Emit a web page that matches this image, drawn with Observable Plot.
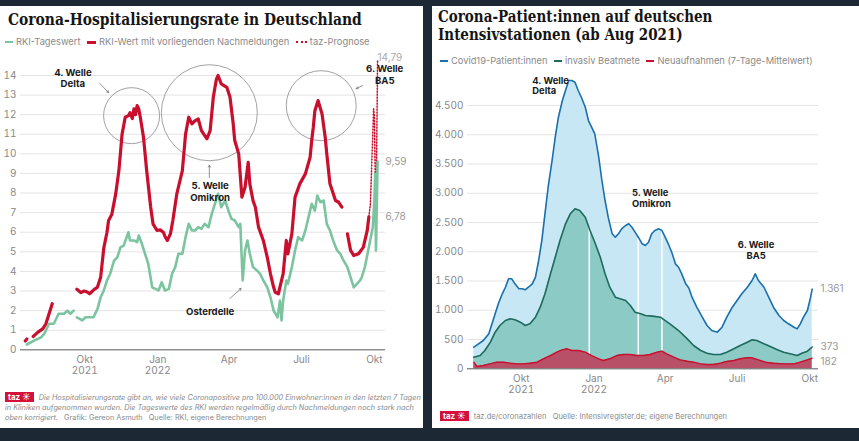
<!DOCTYPE html>
<html><head><meta charset="utf-8">
<script src="https://cdn.jsdelivr.net/npm/d3@7"></script>
<script src="https://cdn.jsdelivr.net/npm/@observablehq/plot@0.6"></script>
<style>
body{margin:0;background:#1c2834;width:859px;height:441px;overflow:hidden;font-family:Inter,"Noto Sans",sans-serif;}
.panel{position:absolute;background:#fff;overflow:hidden}
.title{position:absolute;font-family:"DejaVu Serif",serif;font-stretch:condensed;font-weight:bold;font-size:16.4px;color:#151515;line-height:18px;white-space:nowrap;transform-origin:0 0}
.legend{position:absolute;font-size:9.3px;color:#8a8a8a;white-space:nowrap;line-height:12px}
.legend span.sw{display:inline-block;vertical-align:middle;margin-right:3px}
.legend span.item{margin-right:4px}
.caption{position:absolute;font-size:7.3px;color:#8a8a8a;line-height:10px;white-space:nowrap}
.taz{display:inline-block;background:#d3113a;color:#fff;font-weight:bold;font-style:normal;font-size:8px;padding:0 3px;line-height:10px;margin-right:5px}
.chart{position:absolute;left:0}
.chart svg{overflow:visible}
</style></head>
<body>
<div class="panel" style="left:0;top:6px;width:423px;height:422px">
  <div class="title" style="left:8px;top:5px;transform:scaleX(0.94)">Corona-Hospitalisierungsrate in Deutschland</div>
  <div class="legend" style="left:5px;top:30px">
    <span class="item"><span class="sw" style="width:8px;height:2px;background:#7cc4a0"></span>RKI-Tageswert</span>
    <span class="item"><span class="sw" style="width:9px;height:3.5px;background:#c8102e"></span>RKI-Wert mit vorliegenden Nachmeldungen</span>
    <span class="item"><span class="sw" style="width:11px;height:0;border-top:2px dotted #c8102e"></span>taz-Prognose</span>
  </div>
  <div class="chart" id="c1" style="top:44px"></div>
  <div class="caption" style="left:5px;top:386px"><span class="taz">taz ☀</span><i>Die Hospitalisierungsrate gibt an, wie viele Coronapositive pro 100.000 Einwohner:innen in den letzten 7 Tagen</i><br><i>in Kliniken aufgenommen wurden. Die Tageswerte des RKI werden regelmäßig durch Nachmeldungen noch stark nach</i><br><i>oben korrigiert.</i>&nbsp;&nbsp;&nbsp;Grafik: Gereon Asmuth&nbsp;&nbsp;&nbsp;Quelle: RKI, eigene Berechnungen</div>
</div>
<div class="panel" style="left:432px;top:6px;width:427px;height:422px">
  <div class="title" style="left:6px;top:2px;transform:scaleX(0.915)">Corona-Patient:innen auf deutschen<br>Intensivstationen (ab Aug 2021)</div>
  <div class="legend" style="left:8px;top:49px">
    <span class="item"><span class="sw" style="width:8px;height:2px;background:#1a70ad"></span>Covid19-Patient:innen</span>
    <span class="item"><span class="sw" style="width:8px;height:2px;background:#1e6b5e"></span>invasiv Beatmete</span>
    <span class="item"><span class="sw" style="width:8px;height:2px;background:#c8102e"></span>Neuaufnahmen (7-Tage-Mittelwert)</span>
  </div>
  <div class="chart" id="c2" style="top:62px"></div>
  <div class="caption" style="left:8px;top:405px;font-size:7.5px"><span class="taz">taz ☀</span>taz.de/coronazahlen&nbsp;&nbsp;&nbsp;Quelle: Intensivregister.de; eigene Berechnungen</div>
</div>
<script>
// ---------- Left chart data ----------
const tagesDates = ["2021-07-20","2021-07-29","2021-08-07","2021-08-11","2021-08-17","2021-08-23","2021-08-29","2021-09-05","2021-09-09","2021-09-13","2021-09-17","2021-09-19","2021-09-21","2021-09-28","2021-10-02","2021-10-08","2021-10-12","2021-10-17","2021-10-21","2021-10-25","2021-10-29","2021-11-02","2021-11-07","2021-11-11","2021-11-15","2021-11-19","2021-11-25","2021-11-27","2021-12-02","2021-12-06","2021-12-08","2021-12-12","2021-12-16","2021-12-20","2021-12-25","2021-12-29","2022-01-02","2022-01-06","2022-01-10","2022-01-15","2022-01-19","2022-01-23","2022-01-27","2022-02-01","2022-02-05","2022-02-09","2022-02-13","2022-02-17","2022-02-21","2022-02-25","2022-03-01","2022-03-06","2022-03-10","2022-03-14","2022-03-18","2022-03-22","2022-03-27","2022-03-31","2022-04-04","2022-04-08","2022-04-13","2022-04-15","2022-04-18","2022-04-21","2022-04-24","2022-04-27","2022-05-01","2022-05-06","2022-05-10","2022-05-14","2022-05-19","2022-05-23","2022-05-27","2022-06-01","2022-06-04","2022-06-06","2022-06-08","2022-06-12","2022-06-14","2022-06-19","2022-06-23","2022-06-27","2022-07-02","2022-07-06","2022-07-10","2022-07-14","2022-07-18","2022-07-21","2022-07-25","2022-07-29","2022-08-02","2022-08-06","2022-08-10","2022-08-15","2022-08-19","2022-08-23","2022-08-28","2022-09-01","2022-09-05","2022-09-09","2022-09-13","2022-09-15","2022-09-19","2022-09-24","2022-09-29","2022-10-01","2022-10-02","2022-10-03","2022-10-05"];
const tagesValues = [0.27,0.47,0.64,0.82,1.33,1.33,1.84,1.84,2.0,1.84,2.0,null,1.66,1.5,1.66,1.66,1.66,2.09,2.68,3.03,3.54,3.88,4.56,4.72,5.23,5.32,6.0,5.58,5.58,5.49,5.83,5.41,4.9,4.39,3.19,3.11,3.03,3.45,3.03,3.11,3.88,4.22,4.9,4.9,5.75,6.43,6.09,6.09,6.26,6.17,6.43,6.26,6.94,7.45,7.96,7.28,7.62,7.1,6.68,6.6,6.26,6.43,3.54,5.07,5.58,4.9,4.22,4.05,3.88,3.54,3.19,2.68,2.0,1.66,2.51,1.5,2.51,3.54,3.37,4.22,5.07,5.75,5.58,6.09,6.77,7.45,7.1,7.87,7.53,7.62,6.43,6.09,5.58,5.07,4.9,4.56,4.22,3.7,3.19,3.37,3.54,3.7,4.22,5.23,6.26,7.62,8.98,5.07,9.59];

const nachDates = ["2021-07-18","2021-07-20","2021-07-24","2021-07-28","2021-08-03","2021-08-09","2021-08-13","2021-08-17","2021-08-21","2021-08-25","2021-09-21","2021-09-26","2021-09-30","2021-10-04","2021-10-07","2021-10-12","2021-10-17","2021-10-21","2021-10-25","2021-10-29","2021-10-31","2021-11-04","2021-11-09","2021-11-13","2021-11-17","2021-11-21","2021-11-25","2021-11-27","2021-11-30","2021-12-02","2021-12-04","2021-12-06","2021-12-08","2021-12-10","2021-12-14","2021-12-18","2021-12-23","2021-12-26","2021-12-31","2022-01-04","2022-01-08","2022-01-10","2022-01-13","2022-01-15","2022-01-17","2022-01-20","2022-01-25","2022-02-01","2022-02-05","2022-02-09","2022-02-13","2022-02-17","2022-02-21","2022-02-25","2022-03-04","2022-03-08","2022-03-12","2022-03-16","2022-03-18","2022-03-22","2022-03-29","2022-04-02","2022-04-06","2022-04-08","2022-04-13","2022-04-17","2022-04-21","2022-04-25","2022-04-27","2022-05-01","2022-05-04","2022-05-08","2022-05-14","2022-05-19","2022-05-23","2022-05-27","2022-05-29","2022-06-02","2022-06-06","2022-06-08","2022-06-12","2022-06-14","2022-06-19","2022-06-23","2022-06-29","2022-07-06","2022-07-12","2022-07-14","2022-07-16","2022-07-18","2022-07-22","2022-07-27","2022-07-31","2022-08-02","2022-08-06","2022-08-13","2022-08-17","2022-08-21","2022-08-24","2022-08-28","2022-09-01","2022-09-05","2022-09-11","2022-09-17","2022-09-22","2022-09-24"];
const nachValues = [0.45,0.55,null,0.68,0.9,1.07,1.33,1.84,2.35,null,3.09,2.92,3.0,2.95,2.86,3.05,3.2,3.7,5.2,6.0,6.6,6.9,7.96,9.15,11.0,11.87,11.95,12.1,11.8,12.3,12.0,12.46,12.3,11.87,10.85,9.15,7.3,6.43,6.09,6.12,6.0,5.8,5.58,5.75,5.92,6.6,7.96,9.15,11.0,11.87,11.53,11.7,11.78,11.19,10.77,11.19,12.9,13.83,14.0,13.57,13.4,12.9,11.56,10.68,10.0,7.79,8.3,9.57,8.47,7.62,7.28,6.26,5.58,4.72,3.88,3.19,2.94,2.86,3.54,3.88,5.58,4.9,5.92,7.79,8.47,8.98,9.83,10.68,11.36,12.2,12.72,12.04,10.85,10.0,8.47,7.62,7.53,7.28,null,5.92,5.07,4.81,4.9,5.23,6.09,6.78];

const prognoseDates = ["2022-09-24","2022-09-26","2022-09-30","2022-10-01","2022-10-03","2022-10-05"];
const prognoseValues = [6.78,7.45,12.3,11.9,6.3,14.79];

const leftYTicks = [0,1,2,3,4,5,6,7,8,9,10,11,12,13,14];
const xTickDates = ["2021-10-01","2022-01-01","2022-04-01","2022-07-01","2022-10-01"];
const xTickLabels = ["Okt\n2021","Jan\n2022","Apr","Juli","Okt"];

const leftEndValues = [9.59, 6.78];
const leftPrognoseEnd = [14.79];

const leftNotes = [
  {date:"2021-09-16", value:13.87, text:"4. Welle\nDelta"},
  {date:"2022-03-08", value:8.1, text:"5. Welle\nOmikron"},
  {date:"2022-10-14", value:14.05, text:"6. Welle\nBA5"},
  {date:"2022-03-08", value:1.95, text:"Osterdelle"}
];
const leftArrows = [
  {from:"2021-10-20", v1:13.59, to:"2021-10-31", v2:13.13},
  {from:"2022-03-07", v1:8.79, to:"2022-03-07", v2:9.42},
  {from:"2022-09-16", v1:13.48, to:"2022-09-08", v2:13.33},
  {from:"2022-04-02", v1:2.62, to:"2022-04-16", v2:3.13}
];
const leftCircles = [
  {date:"2021-11-29", value:11.95},
  {date:"2022-03-07", value:12.1},
  {date:"2022-07-26", value:12.46}
];
const leftCircleRadii = [28, 48, 35];

// ---------- Right chart data ----------
const icuDates = ["2021-08-02","2021-08-08","2021-08-14","2021-08-21","2021-08-25","2021-08-29","2021-09-02","2021-09-07","2021-09-11","2021-09-15","2021-09-19","2021-09-23","2021-09-28","2021-10-02","2021-10-06","2021-10-10","2021-10-15","2021-10-19","2021-10-23","2021-10-27","2021-10-31","2021-11-04","2021-11-09","2021-11-13","2021-11-17","2021-11-22","2021-11-26","2021-11-30","2021-12-04","2021-12-08","2021-12-12","2021-12-16","2021-12-21","2021-12-25","2021-12-29","2022-01-02","2022-01-07","2022-01-11","2022-01-15","2022-01-19","2022-01-24","2022-01-28","2022-02-01","2022-02-05","2022-02-10","2022-02-14","2022-02-18","2022-02-22","2022-02-26","2022-03-03","2022-03-07","2022-03-11","2022-03-15","2022-03-19","2022-03-24","2022-03-28","2022-04-01","2022-04-05","2022-04-10","2022-04-14","2022-04-18","2022-04-22","2022-04-27","2022-05-01","2022-05-05","2022-05-11","2022-05-18","2022-05-24","2022-05-30","2022-06-06","2022-06-12","2022-06-18","2022-06-25","2022-07-01","2022-07-07","2022-07-14","2022-07-20","2022-07-24","2022-07-28","2022-08-04","2022-08-10","2022-08-16","2022-08-23","2022-08-29","2022-09-04","2022-09-11","2022-09-15","2022-09-19","2022-09-23","2022-09-28","2022-10-02","2022-10-04"];
const icuValues = [369,427,484,598,769,940,1111,1282,1394,1538,1538,1452,1367,1367,1350,1394,1452,1566,1851,2192,2649,3103,3560,3958,4300,4585,4756,4927,4927,4898,4756,4641,4470,4243,4129,4016,3616,3218,2876,2591,2307,2249,2307,2392,2449,2478,2420,2335,2249,2136,2107,2163,2307,2363,2392,2363,2249,2136,1965,1794,1736,1623,1452,1380,1224,1053,882,740,654,626,711,882,1053,1167,1282,1394,1509,1623,1509,1394,1224,1053,911,825,769,711,683,769,882,996,1224,1361];

const beatmetDates = ["2021-08-02","2021-08-10","2021-08-16","2021-08-23","2021-08-29","2021-09-04","2021-09-11","2021-09-17","2021-09-23","2021-09-30","2021-10-06","2021-10-12","2021-10-19","2021-10-25","2021-10-31","2021-11-07","2021-11-13","2021-11-19","2021-11-26","2021-12-02","2021-12-08","2021-12-14","2021-12-21","2021-12-27","2022-01-02","2022-01-09","2022-01-15","2022-01-21","2022-01-28","2022-02-03","2022-02-10","2022-02-16","2022-02-22","2022-03-01","2022-03-07","2022-03-16","2022-03-26","2022-04-07","2022-04-18","2022-04-29","2022-05-07","2022-05-16","2022-05-24","2022-06-01","2022-06-10","2022-06-18","2022-06-27","2022-07-05","2022-07-14","2022-07-20","2022-07-26","2022-08-04","2022-08-12","2022-08-21","2022-08-29","2022-09-06","2022-09-15","2022-09-21","2022-09-28","2022-10-04"];
const beatmetValues = [198,227,313,455,626,740,825,854,837,797,740,769,882,1053,1282,1623,1907,2192,2478,2649,2734,2705,2591,2363,2163,1907,1623,1394,1224,1196,1167,1082,967,940,911,900,882,769,654,512,398,313,267,244,244,284,342,398,455,495,484,427,381,324,284,256,227,267,301,373];

const neuDates = ["2021-08-02","2021-08-06","2021-08-14","2021-08-23","2021-08-31","2021-09-09","2021-09-17","2021-09-26","2021-10-04","2021-10-12","2021-10-21","2021-10-29","2021-11-07","2021-11-15","2021-11-22","2021-11-28","2021-12-04","2021-12-12","2021-12-21","2021-12-29","2022-01-07","2022-01-13","2022-01-21","2022-01-30","2022-02-07","2022-02-16","2022-02-24","2022-03-05","2022-03-13","2022-03-22","2022-03-28","2022-04-03","2022-04-12","2022-04-20","2022-04-29","2022-05-07","2022-05-16","2022-05-24","2022-06-01","2022-06-10","2022-06-18","2022-06-27","2022-07-05","2022-07-14","2022-07-20","2022-07-28","2022-08-06","2022-08-16","2022-08-29","2022-09-11","2022-09-19","2022-09-28","2022-10-04"];
const neuValues = [113,40,56,85,113,113,96,85,85,96,113,171,227,284,324,342,313,313,284,227,171,142,171,227,244,244,227,227,244,284,301,256,198,153,130,113,85,73,73,96,125,142,171,188,188,153,113,96,85,85,113,153,182];

const gapDates = ["2021-12-26","2022-02-26","2022-03-28"];
const gapBottoms = [250,230,301];
const gapTops = [2420,2249,2363];

const rightYTicks = [0,500,1000,1500,2000,2500,3000,3500,4000,4500];
const rightEndValues = [1361, 373];
const rightEndLow = [182];
const rightNotesStart = [
  {date:"2021-10-15", value:4841, text:"4. Welle\nDelta"},
  {date:"2022-02-18", value:2924, text:"5. Welle\nOmikron"}
];
const rightNotesMid = [
  {date:"2022-07-25", value:2030, text:"6. Welle\nBA5"}
];

// ---------- build ----------
const parse = d3.utcParse("%Y-%m-%d");
const de = d3.formatLocale({decimal:",", thousands:".", grouping:[3], currency:["","€"]});
const zip = (ds, vs) => ds.map((d,i) => ({date: parse(d), value: vs[i]}));
const tages = zip(tagesDates, tagesValues);
const nach = zip(nachDates, nachValues);
const prognose = zip(prognoseDates, prognoseValues);
const xTicks = xTickDates.map(parse);
const xLabelMap = new Map(xTicks.map((d,i) => [+d, xTickLabels[i]]));
const notes1 = leftNotes.map(n => ({...n, date: parse(n.date)}));
const arrows1 = leftArrows.map(a => ({...a, from: parse(a.from), to: parse(a.to)}));
const circles1 = leftCircles.map(c => ({...c, date: parse(c.date)}));

const axisFont = {fill:"#888", fontSize:10};

const left = Plot.plot({
  width: 423, height: 330,
  marginLeft: 20, marginRight: 38, marginTop: 25, marginBottom: 30.7,
  style: {fontFamily: "Inter, 'Noto Sans', sans-serif", fontSize: "10px", background: "transparent", overflow: "visible"},
  x: {type: "utc", domain: [parse("2021-07-12"), parse("2022-10-15")], label: null},
  y: {domain: [0, 14], label: null},
  marks: [
    Plot.gridY(leftYTicks, {stroke: "#e4e4e4", strokeOpacity: 1}),
    Plot.axisY(leftYTicks, {tickSize: 0, tickPadding: 4, ...axisFont}),
    Plot.axisX(xTicks, {tickSize: 0, tickPadding: 5, tickFormat: d => xLabelMap.get(+d), lineHeight: 1.15, ...axisFont}),
    ...circles1.map((c,i) => Plot.dot([c], {x: "date", y: "value", r: leftCircleRadii[i], stroke: "#8a8a8a", strokeWidth: 0.8, fill: "none"})),
    Plot.arrow(arrows1, {x1: "from", y1: "v1", x2: "to", y2: "v2", stroke: "#777", strokeWidth: 0.8, headLength: 4}),
    Plot.line(prognose, {x: "date", y: "value", stroke: "#c8102e", strokeWidth: 1.5, strokeDasharray: "1.2,1.8"}),
    Plot.line(tages, {x: "date", y: "value", stroke: "#7cc4a0", strokeWidth: 2.6, strokeLinejoin: "round"}),
    Plot.line(nach, {x: "date", y: "value", stroke: "#c8102e", strokeWidth: 3.2, strokeLinejoin: "round"}),
    Plot.ruleY([0], {stroke: "#666", strokeWidth: 1}),
    Plot.text(leftPrognoseEnd, {y: d => d, text: d => de.format(",.2f")(d), frameAnchor: "right", textAnchor: "start", dx: -8, dy: -2, fill: "#aaa", fontSize: 10}),
    Plot.text(notes1, {x: "date", y: "value", text: "text", fontWeight: "bold", fill: "#1a1a1a", fontSize: 9.6, lineHeight: 1.2}),
    Plot.text(leftEndValues, {y: d => d, text: d => de.format(",.2f")(d), frameAnchor: "right", textAnchor: "start", dx: 0, fill: "#999", fontSize: 10})
  ]
});
document.getElementById("c1").appendChild(left);

const icu = zip(icuDates, icuValues);
const beatmet = zip(beatmetDates, beatmetValues);
const neu = zip(neuDates, neuValues);
const gaps = gapDates.map((d,i) => ({date: parse(d), bottom: gapBottoms[i], top: gapTops[i]}));
const notesS = rightNotesStart.map(n => ({...n, date: parse(n.date)}));
const notesM = rightNotesMid.map(n => ({...n, date: parse(n.date)}));

const right = Plot.plot({
  width: 427, height: 332,
  marginLeft: 35, marginRight: 41, marginTop: 37, marginBottom: 31.7,
  style: {fontFamily: "Inter, 'Noto Sans', sans-serif", fontSize: "10px", background: "transparent", overflow: "visible"},
  x: {type: "utc", domain: [parse("2021-07-25"), parse("2022-10-12")], label: null},
  y: {domain: [0, 4500], label: null},
  marks: [
    Plot.gridY(rightYTicks, {stroke: "#e4e4e4", strokeOpacity: 1}),
    Plot.axisY(rightYTicks, {tickSize: 0, tickPadding: 4, tickFormat: d => de.format(",")(d), ...axisFont}),
    Plot.axisX(xTicks, {tickSize: 0, tickPadding: 5, tickFormat: d => xLabelMap.get(+d), lineHeight: 1.15, ...axisFont}),
    Plot.areaY(icu, {x: "date", y: "value", fill: "#c8e7f4"}),
    Plot.areaY(beatmet, {x: "date", y: "value", fill: "#8ccac6"}),
    Plot.ruleX(gaps, {x: "date", y1: "bottom", y2: "top", stroke: "#fff", strokeWidth: 1.6, strokeOpacity: 0.9}),
    Plot.areaY(neu, {x: "date", y: "value", fill: "#b85168"}),
    Plot.line(icu, {x: "date", y: "value", stroke: "#1a70ad", strokeWidth: 1.6}),
    Plot.line(beatmet, {x: "date", y: "value", stroke: "#1e6b5e", strokeWidth: 1.6}),
    Plot.line(neu, {x: "date", y: "value", stroke: "#c8102e", strokeWidth: 1.4}),
    Plot.ruleY([0], {stroke: "#666", strokeWidth: 1}),
    Plot.text(notesS, {x: "date", y: "value", text: "text", textAnchor: "start", fontWeight: "bold", fill: "#1a1a1a", fontSize: 9.4, lineHeight: 1.15}),
    Plot.text(notesM, {x: "date", y: "value", text: "text", textAnchor: "middle", fontWeight: "bold", fill: "#1a1a1a", fontSize: 9.4, lineHeight: 1.15}),
    Plot.text(rightEndValues, {y: d => d, text: d => de.format(",")(d), frameAnchor: "right", textAnchor: "start", dx: 2, fill: "#999", fontSize: 10}),
    Plot.text(rightEndLow, {y: d => d, text: d => de.format(",")(d), frameAnchor: "right", textAnchor: "start", dx: 2, dy: 4, fill: "#999", fontSize: 10})
  ]
});
document.getElementById("c2").appendChild(right);
</script>
</body></html>
